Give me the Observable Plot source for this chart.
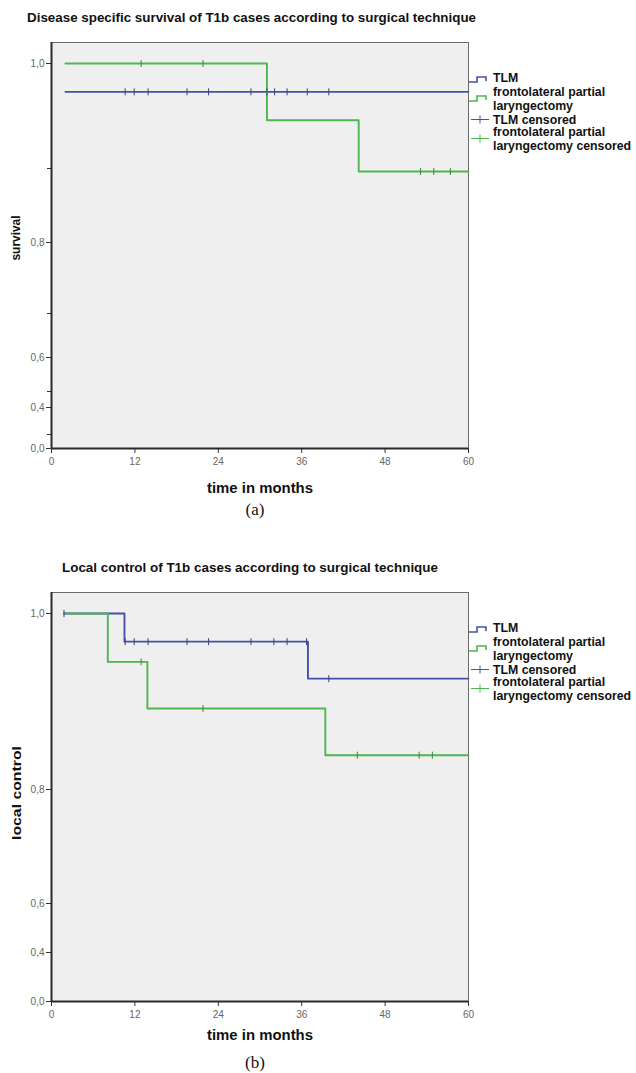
<!DOCTYPE html>
<html>
<head>
<meta charset="utf-8">
<script src="https://cdn.jsdelivr.net/npm/d3@7"></script>
<script src="https://cdn.jsdelivr.net/npm/@observablehq/plot@0.6"></script>
<style>
  html, body { margin: 0; padding: 0; background: #fff; }
  #page { position: relative; width: 636px; height: 1073px; overflow: hidden; background: #fff; }
  .panel { position: absolute; left: 0; }
  #overlay { position: absolute; left: 0; top: 0; }
  .ttl { font-family: "Liberation Sans", Arial, sans-serif; font-weight: bold; fill: #111; }
</style>
</head>
<body>
<div id="page">
  <div class="panel" id="pa" style="top:0px"></div>
  <div class="panel" id="pb" style="top:550px"></div>
</div>
<script>
// ---------- data ----------
const xTicks = [0, 12, 24, 36, 48, 60];
const yTicksMajor = [0, 0.4, 0.6, 0.8, 1.0];
const yTicksMinorA = [0.2, 0.5, 0.7, 0.9];

// (a) Disease specific survival
const aTlmTime = [2, 60];
const aTlmSurv = [0.973, 0.973];
const aFplTime = [2, 31.0, 44.2, 60];
const aFplSurv = [1.0, 0.946, 0.896, 0.896];
const aTlmCensored = [10.6, 11.9, 13.9, 19.5, 22.6, 28.7, 31.0, 32.1, 33.9, 36.8, 39.9];
const aFplCensored = [12.9, 21.8, 53.1, 55.0, 57.4];

// (b) Local control
const bTlmTime = [1.8, 10.5, 36.9, 60];
const bTlmSurv = [1.0, 0.968, 0.926, 0.926];
const bFplTime = [2, 8.1, 13.8, 39.4, 60];
const bFplSurv = [1.0, 0.945, 0.892, 0.839, 0.839];
const bTlmCensored = [1.8, 10.6, 11.9, 13.9, 19.5, 22.6, 28.7, 32.0, 33.9, 36.7, 39.9];
const bFplCensored = [12.9, 21.8, 44.0, 52.9, 54.8];

const blue = "#4551a8";
const green = "#4fb54f";

// ---------- helpers ----------
function levelAt(times, surv, t) {
  let v = surv[0];
  for (let i = 0; i < times.length; i++) if (times[i] <= t) v = surv[i];
  return v;
}
const censorSymbol = { draw(ctx, size) { const r = Math.sqrt(size / Math.PI); ctx.moveTo(0, -r); ctx.lineTo(0, r); } };
const fmt = d => d3.format(".1f")(d).replace(".", ",");

function panel(opts) {
  // the original value axis is non-uniform (piecewise): warp values to the axis' vertical position units
  const warp = d3.scaleLinear().domain(opts.yBreaks).range(opts.yPos);
  const table = (times, surv) => times.map((t, i) => ({t, s: warp(surv[i])}));
  const censTable = (cens, times, surv) => cens.map(t => ({t, s: warp(levelAt(times, surv, t))}));
  const bottom = opts.height - opts.marginBottom;
  const marks = [
    Plot.frame({fill: "#efefef", stroke: "#6a6a6a", strokeWidth: 1}),
    Plot.axisX({ticks: xTicks, tickFormat: d => String(d), tickSize: 5, tickPadding: 4, label: null, stroke: "#333", fill: "#666"}),
    Plot.axisY({ticks: yTicksMajor.map(warp), tickFormat: p => fmt(Math.round(warp.invert(p) * 10) / 10), tickSize: 5, tickPadding: 2, label: null, stroke: "#333", fill: "#666"}),
  ];
  if (opts.minor) marks.push(Plot.axisY({ticks: opts.minor.map(warp), tickFormat: () => "", tickSize: 4, label: null, stroke: "#333"}));
  marks.push(
    Plot.ruleX([0], {stroke: "#2a2a2a", strokeWidth: 2}),
    Plot.ruleY([bottom], {stroke: "#2a2a2a", strokeWidth: 2}),
    Plot.line(table(opts.tlmT, opts.tlmS), {x: "t", y: "s", curve: "step-after", stroke: blue, strokeWidth: 1.9}),
    Plot.line(table(opts.fplT, opts.fplS), {x: "t", y: "s", curve: "step-after", stroke: green, strokeWidth: 1.9}),
    Plot.dot(censTable(opts.tlmC, opts.tlmT, opts.tlmS), {x: "t", y: "s", symbol: censorSymbol, r: 3.5, stroke: "#3a4280", fill: "none", strokeWidth: 1}),
    Plot.dot(censTable(opts.fplC, opts.fplT, opts.fplS), {x: "t", y: "s", symbol: censorSymbol, r: 3.5, stroke: "#3d8a3d", fill: "none", strokeWidth: 1})
  );
  return Plot.plot({
    width: 636, height: opts.height,
    marginLeft: 51, marginRight: 168, marginTop: 42, marginBottom: opts.marginBottom,
    x: {domain: [0, 60]},
    y: {domain: [bottom, 42]},
    style: {background: "transparent", fontFamily: "'Liberation Sans', Arial, sans-serif", fontSize: "10px", overflow: "visible"},
    marks
  });
}

document.getElementById("pa").appendChild(panel({
  height: 530, marginBottom: 82,
  yBreaks: [0, 0.2, 0.4, 0.5, 0.6, 0.7, 0.8, 0.9, 1.0],
  yPos: [448, 434, 407, 391, 357, 313, 242, 168, 63],
  minor: yTicksMinorA,
  tlmT: aTlmTime, tlmS: aTlmSurv, fplT: aFplTime, fplS: aFplSurv,
  tlmC: aTlmCensored, fplC: aFplCensored
}));
document.getElementById("pb").appendChild(panel({
  height: 523, marginBottom: 72,
  yBreaks: [0, 0.4, 0.6, 0.8, 1.0],
  yPos: [451, 402, 353, 239, 63],
  minor: null,
  tlmT: bTlmTime, tlmS: bTlmSurv, fplT: bFplTime, fplS: bFplSurv,
  tlmC: bTlmCensored, fplC: bFplCensored
}));

// ---------- overlay texts & legends ----------
const NS = "http://www.w3.org/2000/svg";
const ov = document.createElementNS(NS, "svg");
ov.setAttribute("id", "overlay");
ov.setAttribute("width", 636); ov.setAttribute("height", 1073);
document.getElementById("page").appendChild(ov);
function txt(str, x, y, size, attrs = {}) {
  const t = document.createElementNS(NS, "text");
  t.textContent = str;
  t.setAttribute("x", x); t.setAttribute("y", y);
  t.setAttribute("class", "ttl");
  t.setAttribute("font-size", size);
  for (const k in attrs) t.setAttribute(k, attrs[k]);
  ov.appendChild(t);
  return t;
}
function path(d, stroke, w) {
  const p = document.createElementNS(NS, "path");
  p.setAttribute("d", d); p.setAttribute("stroke", stroke); p.setAttribute("fill", "none"); p.setAttribute("stroke-width", w);
  ov.appendChild(p);
}

const titles = ["Disease specific survival of T1b cases according to surgical technique", "Local control of T1b cases according to surgical technique"];
const yLabels = ["survival", "local control"];
const xLabel = "time in months";
const panelTags = ["(a)", "(b)"];
const legendLines = [["TLM"], ["frontolateral partial", "laryngectomy"], ["TLM censored"], ["frontolateral partial", "laryngectomy censored"]];

// Titles
txt(titles[0], 27, 22, 13.4, {textLength: 449, lengthAdjust: "spacingAndGlyphs"});
txt(titles[1], 62, 571.5, 13.4, {textLength: 376, lengthAdjust: "spacingAndGlyphs"});
// Y labels
txt(yLabels[0], 0, 0, 12.5, {"text-anchor": "middle", transform: "translate(20,238) rotate(-90)", textLength: 45, lengthAdjust: "spacingAndGlyphs"});
txt(yLabels[1], 0, 0, 13, {"text-anchor": "middle", transform: "translate(21,793) rotate(-90)", textLength: 94, lengthAdjust: "spacingAndGlyphs"});
// X labels
txt(xLabel, 260, 493, 14, {"text-anchor": "middle", textLength: 106, lengthAdjust: "spacingAndGlyphs"});
txt(xLabel, 260, 1040, 14, {"text-anchor": "middle", textLength: 106, lengthAdjust: "spacingAndGlyphs"});
// Panel tags
txt(panelTags[0], 255, 515, 17, {"text-anchor": "middle", style: "font-family:'Liberation Serif','Times New Roman',serif;font-weight:normal"});
txt(panelTags[1], 255, 1068, 17, {"text-anchor": "middle", style: "font-family:'Liberation Serif','Times New Roman',serif;font-weight:normal"});

// Legends
for (const off of [0, 550]) {
  const tx = 493, fs = 12.3;
  const lineY = [78, 92, 106, 119.5, 132, 146];
  const lines = legendLines.flat();
  lines.forEach((s, i) => txt(s, tx, lineY[i] + off + 4.3, fs, {fill: "#1a1a1a"}));
  const y1 = 80 + off, y2 = 99 + off, y3 = 119.5 + off, y4 = 138.5 + off;
  path(`M469,${y1 + 2}H477V${y1 - 3}H486V${y1 + 1}`, blue, 1.6);
  path(`M469,${y2 + 2}H477V${y2 - 3}H486V${y2 + 1}`, green, 1.6);
  path(`M471,${y3}H489M480,${y3 - 4}V${y3 + 4}`, blue, 1);
  path(`M471,${y4}H489M480,${y4 - 4}V${y4 + 4}`, green, 1);
}
</script>
</body>
</html>
